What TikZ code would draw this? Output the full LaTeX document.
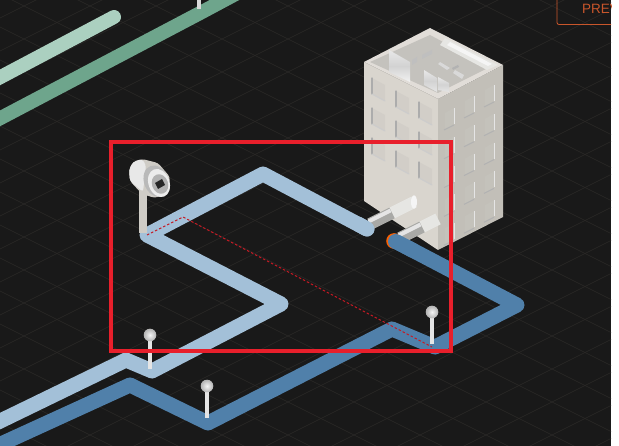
\documentclass[tikz,border=0pt]{standalone}
\usepackage{fontspec}
\usetikzlibrary{calc}
\setmainfont{Liberation Sans}
\definecolor{bgdark}{HTML}{191919}
\definecolor{gridline}{HTML}{2B2928}
\definecolor{pipelight}{HTML}{A3C0D8}
\definecolor{pipedark}{HTML}{5080AA}
\definecolor{greendark}{HTML}{6EA58C}
\definecolor{greenlight}{HTML}{ABD0C0}
\definecolor{framered}{HTML}{E81F2B}
\definecolor{btnorange}{HTML}{C9562B}
\definecolor{wallleft}{HTML}{D9D5CE}
\definecolor{wallright}{HTML}{C2BFB8}
\definecolor{roofgrey}{HTML}{C4C2BD}
\definecolor{tubewhite}{HTML}{E6E6E3}
\definecolor{tubegrey}{HTML}{A9A9A6}
\definecolor{housing}{HTML}{CFCCC6}
\tikzset{
  pipe/.style={line width=15pt,line join=round,line cap=round},
  gridrule/.style={draw=gridline,line width=0.6pt},
  fitting/.style={line width=12pt,line cap=butt},
  bulb/.style={inner color=white!92!gray,outer color=gray!60!white},
}
\begin{document}
\begin{tikzpicture}[x=1pt,y=-1pt]
\useasboundingbox (0,0) rectangle (619,446);
\fill[white] (0,0) rectangle (619,446);
\begin{scope}
\clip (0,0) rectangle (611,446);
\fill[bgdark] (0,0) rectangle (611,446);
% isometric floor grid
\foreach \k in {-20,...,24}{
  \draw[gridrule] (0,27+33*\k) -- (611,27+33*\k+305.5);
  \draw[gridrule] (0,18+33*\k) -- (611,18+33*\k-305.5);
}
% toolbar button, cut by the panel edge
\draw[btnorange,line width=0.8pt,rounded corners=2pt] (557,-10) -- (557,24.5) -- (640,24.5);
\node[text=btnorange,font=\fontsize{13.5}{15}\selectfont,anchor=west,inner sep=0pt] (prevlabel) at (582,9) {PREV};

% green pipes in the far corner
\coordinate (ga) at (-5,80);
\coordinate (gb) at (114,17);
\coordinate (gc) at (-5,121);
\coordinate (gd) at (202,12);
\coordinate (ge) at (245,-11);
\draw[pipe,greenlight,line width=14pt] (ga) -- (gb);
\draw[pipe,greendark,line width=14pt] (gc) -- (gd) -- (ge);
\draw[line width=3.5pt,draw=gray!30!white] (199,-2) -- (199,9);

% dark supply pipe
\coordinate (da) at (-10,449);
\coordinate (db) at (130,385);
\coordinate (dc) at (208,423);
\coordinate (dd) at (392,329);
\coordinate (de) at (435,347);
\coordinate (df) at (517,305);
\coordinate (dg) at (395,241);
\draw[pipe,pipedark] (da) -- (db) -- (dc) -- (dd) -- (de) -- (df) -- (dg);

% light return pipe
\coordinate (la) at (-10,426);
\coordinate (lb) at (126,360);
\coordinate (lc) at (152,371);
\coordinate (ld) at (281,304);
\coordinate (le) at (147,235);
\coordinate (lf) at (263,174);
\coordinate (lg) at (367,229);
\draw[pipe,pipelight] (la) -- (lb) -- (lc) -- (ld) -- (le) -- (lf) -- (lg);

% building body
\coordinate (rb) at (430,28);
\coordinate (rl) at (364,62);
\coordinate (rf) at (438,99);
\coordinate (rr) at (503,65);
\coordinate (bl) at (364,201);
\coordinate (bf) at (438,250);
\coordinate (br) at (503,217);
\fill[wallleft] (rl) -- (rf) -- (bf) -- (bl) -- cycle;
\fill[wallright] (rf) -- (rr) -- (br) -- (bf) -- cycle;
\fill[wallleft!80!white] (rl) -- (rb) -- (rr) -- (rf) -- cycle;
% roof well, skylight strip and plant boxes
\fill[roofgrey] (370,62) -- (430,35) -- (490,67) -- (438,93) -- cycle;
\fill[tubewhite] (445,38) -- (498,65) -- (487,70) -- (440,45) -- cycle;
\fill[white!92!gray] (450,42) -- (492,64) -- (488,66) -- (447,45) -- cycle;
\shade[top color=white!82!gray,bottom color=white!90!gray,middle color=gray!35!white] (389,50) -- (410,62) -- (410,82) -- (389,72) -- cycle;
\shade[top color=white!82!gray,bottom color=white!80!gray,middle color=gray!35!white] (424,70) -- (437,78) -- (437,92) -- (424,85) -- cycle;
\shade[top color=white!82!gray,bottom color=white!80!gray,middle color=gray!35!white] (438,77) -- (449,83) -- (449,92) -- (438,90) -- cycle;
\fill[white!70!gray] (440,62) -- (450,68) -- (447,70) -- (438,64) -- cycle;
\fill[white!70!gray] (455,70) -- (464,75) -- (462,79) -- (453,73) -- cycle;
\fill[gray!60!white] (452,68) -- (458,65) -- (459,67) -- (453,70) -- cycle;
\fill[gray!50!white] (422,55) -- (432,50) -- (432,54) -- (422,59) -- cycle;
\fill[gray!50!white] (412,60) -- (417,57) -- (417,62) -- (412,65) -- cycle;

% recessed windows on the left wall
\foreach \cx/\cy in {372/78,396/91,419/102}{
  \foreach \r in {0,1,2}{
    \pgfmathsetmacro{\yy}{\cy+30*\r}
    \fill[wallleft!92!gray] (\cx,\yy) -- (\cx+13,\yy+7) -- (\cx+13,\yy+23) -- (\cx,\yy+16) -- cycle;
    \draw[line width=1.1pt,draw=gray!65!white,line cap=round] (\cx,\yy) -- (\cx,\yy+16);
    \draw[line width=1.1pt,draw=gray!40!white,line cap=round] (\cx,\yy+16) -- (\cx+13,\yy+23);
  }
}
% recessed windows on the right wall
\foreach \cx/\cy in {445/108,465/96,485/85}{
  \foreach \r in {0,1,2,3,4}{
    \pgfmathsetmacro{\yy}{\cy+28.8*\r}
    \fill[wallright!96!white] (\cx,\yy+5) -- (\cx+9,\yy) -- (\cx+9,\yy+16) -- (\cx,\yy+21) -- cycle;
    \draw[line width=1pt,draw=white!80!gray] (\cx+9,\yy) -- (\cx+9,\yy+16);
    \draw[line width=1pt,draw=gray!60!white] (\cx-1,\yy+22) -- (\cx+9,\yy+17);
  }
}

% pipe fittings entering the wall
\coordinate (ua) at (370,224);
\coordinate (ub) at (392,213);
\coordinate (uc) at (414,202);
\coordinate (wa) at (400,238);
\coordinate (wb) at (422,227);
\coordinate (wc) at (438,219);
\draw[fitting,draw=tubewhite] (ub) -- (uc);
\fill[white!92!gray] (uc) ellipse (3pt and 6.7pt);
\draw[fitting,draw=tubegrey] (ua) -- (ub);
\draw[line width=4pt,draw=white!80!gray] ($(ua)+(-1.5,-2.5)$) -- ($(ub)+(-1.5,-2.5)$);
\draw[fitting,draw=tubewhite] (wb) -- (wc);
\draw[fitting,draw=tubegrey] (wa) -- (wb);
\draw[line width=4pt,draw=white!80!gray] ($(wa)+(-1.5,-2.5)$) -- ($(wb)+(-1.5,-2.5)$);
% pipe ends lying over the fittings
\draw[pipe,pipelight] (358,224) -- (lg);
\fill[orange!75!red] (394,241) circle (7.8pt);
\fill[pipedark] (395.5,241.5) circle (7.5pt);
\draw[line width=15pt,draw=pipedark,line cap=butt] (396,241.5) -- (414,251);

% point sensors
\foreach \nm/\sx/\btm/\tp in {sa/150/369/335,sb/207/418/386,sc/432/344/312}{
  \coordinate (\nm top) at (\sx,\tp);
  \coordinate (\nm foot) at (\sx,\btm);
  \draw[line width=4pt,draw=gray!20!white] (\nm top) -- (\nm foot);
  \shade[bulb] (\nm top) circle (6.3pt);
}

% transmitter with its stem
\coordinate (tfoot) at (143,233);
\coordinate (ttop) at (143,190);
\draw[line width=8pt,draw=housing] (ttop) -- (tfoot);
\fill[housing,rounded corners=3pt] (129,170) -- (133,162) -- (142,159) -- (158,163) -- (170,177) -- (168,193) -- (155,198) -- (142,194) -- (130,181) -- cycle;
\fill[white!82!gray,rounded corners=3pt] (129,170) -- (133,162) -- (142,159) -- (146,165) -- (143,192) -- (130,181) -- cycle;
\fill[gray!55!white,rotate around={20:(156,181)}] (156,181) ellipse (12pt and 16pt);
\fill[white!85!gray,rotate around={20:(159,183)}] (159,183) ellipse (10.5pt and 14.5pt);
\fill[gray!60!white,rotate around={20:(160,184)}] (160,184) ellipse (8pt and 10pt);
\fill[black!85] (155,183) -- (162,179) -- (165,185) -- (158,189) -- cycle;

% red dashed sight line over the pipe run
\coordinate (sighta) at (147,235);
\coordinate (sightb) at (183,217);
\coordinate (sightc) at (432,347);
\draw[framered!85!black,line width=1pt,dash pattern=on 2.5pt off 2pt] (sighta) -- (sightb) -- (sightc);

% selection frame
\draw[framered,line width=4.5pt] (111,142) rectangle (451,351);
\end{scope}
\end{tikzpicture}
\end{document}
